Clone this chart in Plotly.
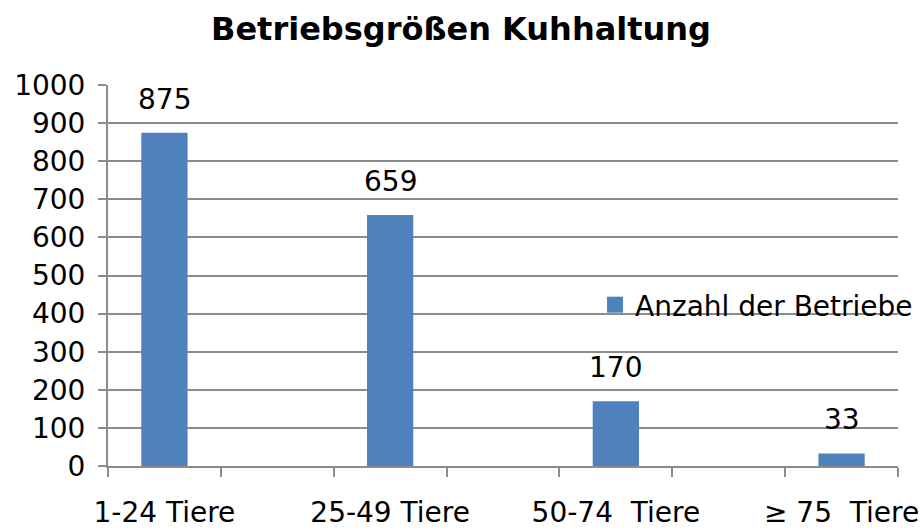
import plotly.graph_objects as go

# Data
categories = ["1-24 Tiere", "25-49 Tiere", "50-74  Tiere", "≥ 75  Tiere"]
slot_index = [0, 2, 4, 6]          # category slots on the axis (every other slot)
values = [875, 659, 170, 33]
series_name = "Anzahl der Betriebe"
y_ticks = list(range(0, 1001, 100))

BLUE = "#4F81BD"
GRID = "#8C8C8C"
FONT = "DejaVu Sans, Liberation Sans, Arial, sans-serif"

fig = go.Figure()
fig.add_trace(go.Bar(
    x=slot_index, y=values, name=series_name,
    marker=dict(color=BLUE, line=dict(width=0)),
    width=0.41, showlegend=False, legendgroup="s",
))
# legend entry with a larger square swatch
fig.add_trace(go.Scatter(
    x=[None], y=[None], mode="markers", name=series_name, legendgroup="s",
    marker=dict(symbol="square", size=16, color=BLUE, line=dict(width=0)),
    showlegend=True,
))

for xs, v in zip(slot_index, values):
    fig.add_annotation(x=xs, y=v, text=str(v), showarrow=False,
                       xanchor="center", yanchor="bottom", yshift=15,
                       font=dict(family=FONT, size=28, color="black"))

fig.update_layout(
    width=922, height=528,
    margin=dict(l=108, r=24, t=85, b=62, autoexpand=False),
    paper_bgcolor="white", plot_bgcolor="white",
    title=dict(text="<b>Betriebsgrößen Kuhhaltung</b>", x=0.5, xanchor="center",
               y=0.945, yanchor="middle", yref="container",
               font=dict(family=FONT, size=32, color="black")),
    showlegend=True,
    legend=dict(x=0.6165, y=0.4226, xanchor="left", yanchor="middle",
                bgcolor="rgba(0,0,0,0)", font=dict(family=FONT, size=28, color="black"),
                itemwidth=30, itemsizing="trace"),
    font=dict(family=FONT, color="black"),
)

fig.update_xaxes(
    range=[-0.5, 6.5],
    tickmode="array", tickvals=slot_index, ticktext=categories,
    ticks="", showgrid=False, automargin=False,
    minor=dict(ticks="outside", tick0=-0.5, dtick=1, ticklen=9, tickcolor=GRID, tickwidth=2, showgrid=False),
    showline=True, linecolor=GRID, linewidth=2,
    tickfont=dict(family=FONT, size=28, color="black"),
    ticklabelstandoff=20,
    zeroline=False,
)
fig.update_yaxes(
    range=[0, 1000], tickmode="array", tickvals=y_ticks,
    showgrid=True, gridcolor=GRID, gridwidth=2, automargin=False,
    ticks="outside", ticklen=8, tickcolor=GRID, tickwidth=2,
    showline=True, linecolor=GRID, linewidth=2,
    tickfont=dict(family=FONT, size=28, color="black"),
    ticklabelstandoff=7,
    zeroline=False,
)

fig.write_html("out.html", config={"displayModeBar": False},
               post_script="document.body.style.margin='0';document.body.style.overflow='hidden';")
